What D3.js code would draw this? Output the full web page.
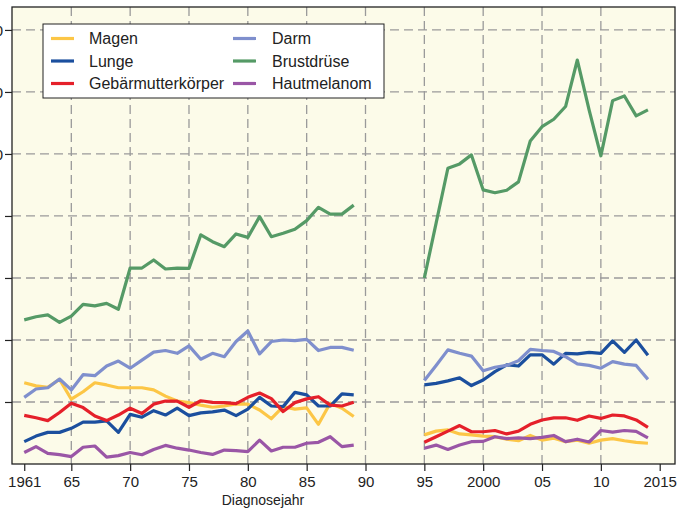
<!DOCTYPE html>
<html>
<head>
<meta charset="utf-8">
<script src="https://cdn.jsdelivr.net/npm/d3@7"></script>
<style>
  body { margin: 0; background: #fff; }
  svg { display: block; font-family: "Liberation Sans", Arial, Helvetica, sans-serif; }
</style>
</head>
<body>
<svg id="chart" width="683" height="510"></svg>
<script>
const years = [1961, 1962, 1963, 1964, 1965, 1966, 1967, 1968, 1969, 1970,
  1971, 1972, 1973, 1974, 1975, 1976, 1977, 1978, 1979, 1980,
  1981, 1982, 1983, 1984, 1985, 1986, 1987, 1988, 1989,
  1995, 1996, 1997, 1998, 1999, 2000, 2001, 2002, 2003, 2004,
  2005, 2006, 2007, 2008, 2009, 2010, 2011, 2012, 2013, 2014];

const magen = [26.2, 25.2, 24.7, 27.3, 20.9, 23.3, 26.2, 25.5, 24.6, 24.6,
  24.6, 23.9, 21.9, 20.3, 19.8, 19.0, 18.3, 18.7, 19.4, 19.3,
  17.4, 14.6, 18.5, 17.7, 18.1, 12.8, 19.6, 18.0, 15.3,
  9.4, 10.6, 11.0, 9.7, 9.4, 9.0, 8.8, 8.0, 7.5, 9.2,
  7.7, 8.3, 7.2, 7.7, 6.7, 7.7, 8.2, 7.5, 7.0, 6.7];
const lunge = [7.2, 9.0, 10.2, 10.2, 11.5, 13.5, 13.5, 13.9, 10.2, 16.0,
  15.1, 17.2, 15.8, 18.0, 15.6, 16.5, 16.8, 17.4, 15.6, 17.7,
  21.5, 18.7, 18.5, 23.1, 22.3, 18.7, 18.7, 22.6, 22.3,
  25.5, 26.0, 26.8, 27.8, 25.3, 27.1, 29.8, 32.0, 31.6, 35.2,
  35.2, 32.2, 35.7, 35.5, 36.0, 35.7, 39.7, 36.0, 40.0, 35.1];
const gebaermutter = [15.7, 14.9, 14.0, 16.6, 19.6, 18.2, 15.5, 14.0, 15.8, 18.0,
  16.3, 19.3, 20.3, 20.3, 18.3, 20.4, 19.9, 19.8, 19.5, 21.5,
  22.9, 21.1, 16.9, 19.8, 21.0, 21.7, 19.0, 18.7, 19.9,
  7.0, 8.8, 10.6, 12.4, 10.4, 10.4, 10.8, 9.7, 10.6, 12.8,
  14.2, 14.9, 14.9, 14.1, 15.5, 14.7, 15.8, 15.5, 14.2, 11.8];
const darm = [21.5, 24.2, 24.6, 27.4, 23.9, 28.8, 28.5, 31.6, 33.2, 30.9,
  33.5, 36.1, 36.6, 35.7, 38.1, 33.8, 35.7, 34.6, 39.5, 42.9,
  35.5, 39.5, 40.0, 39.8, 40.2, 36.6, 37.6, 37.6, 36.7,
  26.9, 31.8, 36.8, 35.7, 34.8, 30.1, 31.2, 31.8, 33.3, 37.0,
  36.6, 36.3, 34.6, 32.3, 31.8, 30.9, 33.0, 32.2, 31.8, 27.3];
const brustdruese = [46.5, 47.5, 48.1, 45.7, 47.7, 51.5, 51.0, 51.8, 49.9, 63.2,
  63.2, 65.8, 62.9, 63.2, 63.1, 73.9, 71.7, 70.1, 74.2, 73.1,
  79.8, 73.3, 74.4, 75.7, 78.5, 82.8, 80.6, 80.6, 83.5,
  60.0, 77.7, 95.4, 96.8, 99.7, 88.4, 87.5, 88.3, 91.0, 104.2,
  108.8, 111.2, 115.3, 130.3, 114.2, 99.4, 117.2, 118.7, 112.3, 114.2];
const hautmelanom = [3.7, 5.6, 3.4, 3.0, 2.4, 5.4, 5.8, 2.2, 2.7, 3.7,
  3.0, 4.7, 6.0, 5.1, 4.5, 3.7, 3.1, 4.5, 4.3, 4.0,
  7.7, 4.2, 5.4, 5.4, 6.7, 7.0, 8.8, 5.6, 6.1,
  5.1, 6.1, 4.7, 6.1, 7.2, 7.3, 8.8, 8.2, 8.4, 8.2,
  8.6, 9.2, 7.2, 8.0, 7.1, 10.8, 10.3, 10.8, 10.5, 8.4];

const seriesNames = ['Magen', 'Lunge', 'Gebärmutterkörper', 'Darm', 'Brustdrüse', 'Hautmelanom'];
const seriesValues = [magen, lunge, gebaermutter, darm, brustdruese, hautmelanom];
const seriesColors = ['#fcc646', '#1b4f9e', '#e5202a', '#7f8fcd', '#559a66', '#9a56a6'];

const xTicks = [1961, 1965, 1970, 1975, 1980, 1985, 1990, 1995, 2000, 2005, 2010, 2015];
const xTickLabels = ['1961', '65', '70', '75', '80', '85', '90', '95', '2000', '05', '10', '2015'];
const xGrid = [1965, 1970, 1975, 1980, 1985, 1990, 1995, 2000, 2005, 2010];
const yTicks = [20, 40, 60, 80, 100, 120, 140];

const margin = { top: 7, right: 8, bottom: 46, left: 12 };
const width = 683;
const height = 510;

const svg = d3.select('#chart');

const x = d3.scaleLinear()
  .domain([1959.96, 2016.3])
  .range([margin.left, width - margin.right]);

const y = d3.scaleLinear()
  .domain([0, 147.4])
  .range([height - margin.bottom, margin.top]);

// panel background
svg.append('rect')
  .attr('x', margin.left)
  .attr('y', margin.top)
  .attr('width', width - margin.left - margin.right)
  .attr('height', height - margin.top - margin.bottom)
  .attr('fill', '#fcfbe9');

// grid
const grid = svg.append('g').attr('class', 'grid')
  .attr('stroke', '#9a9a9a')
  .attr('stroke-width', 1.3)
  .attr('stroke-dasharray', '9,5');

grid.selectAll('.hgrid')
  .data(yTicks)
  .enter().append('line')
  .attr('x1', margin.left)
  .attr('x2', width - margin.right)
  .attr('y1', d => y(d))
  .attr('y2', d => y(d));

grid.selectAll('.vgrid')
  .data(xGrid)
  .enter().append('line')
  .attr('x1', d => x(d))
  .attr('x2', d => x(d))
  .attr('y1', margin.top)
  .attr('y2', height - margin.bottom);

// lines, split where the years have a gap
const line = d3.line()
  .x(d => x(d.year))
  .y(d => y(d.value));

seriesValues.forEach((values, i) => {
  const segments = [];
  let current = [];
  years.forEach((yr, j) => {
    if (j > 0 && yr - years[j - 1] > 1) {
      segments.push(current);
      current = [];
    }
    current.push({ year: yr, value: values[j] });
  });
  segments.push(current);

  svg.append('g')
    .selectAll('path')
    .data(segments)
    .enter().append('path')
    .attr('d', line)
    .attr('fill', 'none')
    .attr('stroke', seriesColors[i])
    .attr('stroke-width', 3.2)
    .attr('stroke-linejoin', 'round');
});

// axes
const xAxis = svg.append('g')
  .attr('transform', `translate(0,${height - margin.bottom})`)
  .call(d3.axisBottom(x)
    .tickValues(xTicks)
    .tickFormat((d, i) => xTickLabels[i])
    .tickSize(7)
    .tickSizeOuter(0));
xAxis.select('.domain').remove();
xAxis.selectAll('line').attr('stroke', '#222').attr('stroke-width', 1.2);
xAxis.selectAll('text')
  .attr('fill', '#222')
  .attr('dy', null)
  .attr('y', 23)
  .style('font-size', '15px')
  .style('font-family', '"Liberation Sans", Arial, sans-serif');

const yAxis = svg.append('g')
  .attr('transform', `translate(${margin.left},0)`)
  .call(d3.axisLeft(y)
    .tickValues(yTicks)
    .tickSize(7)
    .tickSizeOuter(0));
yAxis.select('.domain').remove();
yAxis.selectAll('line').attr('stroke', '#222').attr('stroke-width', 1.2);
yAxis.selectAll('text')
  .attr('fill', '#222')
  .attr('text-anchor', 'start')
  .attr('x', -34)
  .attr('dy', '0.35em')
  .style('font-size', '15px')
  .style('font-family', '"Liberation Sans", Arial, sans-serif');

// frame
svg.append('rect')
  .attr('x', margin.left)
  .attr('y', margin.top)
  .attr('width', width - margin.left - margin.right)
  .attr('height', height - margin.top - margin.bottom)
  .attr('fill', 'none')
  .attr('stroke', '#222')
  .attr('stroke-width', 1.3);

svg.append('text')
  .attr('x', 263)
  .attr('y', 505)
  .attr('text-anchor', 'middle')
  .attr('fill', '#222')
  .style('font-size', '14px')
  .text('Diagnosejahr');

// legend
const legend = svg.append('g')
  .attr('transform', 'translate(43,24)');

legend.append('rect')
  .attr('width', 341)
  .attr('height', 74)
  .attr('fill', '#fff')
  .attr('stroke', '#222')
  .attr('stroke-width', 1);

const legendItems = legend.selectAll('.legend-item')
  .data(seriesNames)
  .enter().append('g')
  .attr('class', 'legend-item')
  .attr('transform', (d, i) => `translate(${i < 3 ? 8 : 190},${14.5 + (i % 3) * 22.5})`);

legendItems.append('line')
  .attr('x1', 0)
  .attr('x2', 23)
  .attr('stroke', (d, i) => seriesColors[i])
  .attr('stroke-width', 3.2);

legendItems.append('text')
  .attr('x', (d, i) => i < 3 ? 38 : 39)
  .attr('dy', '0.35em')
  .attr('fill', '#222')
  .style('font-size', '16px')
  .text(d => d);
</script>
</body>
</html>
